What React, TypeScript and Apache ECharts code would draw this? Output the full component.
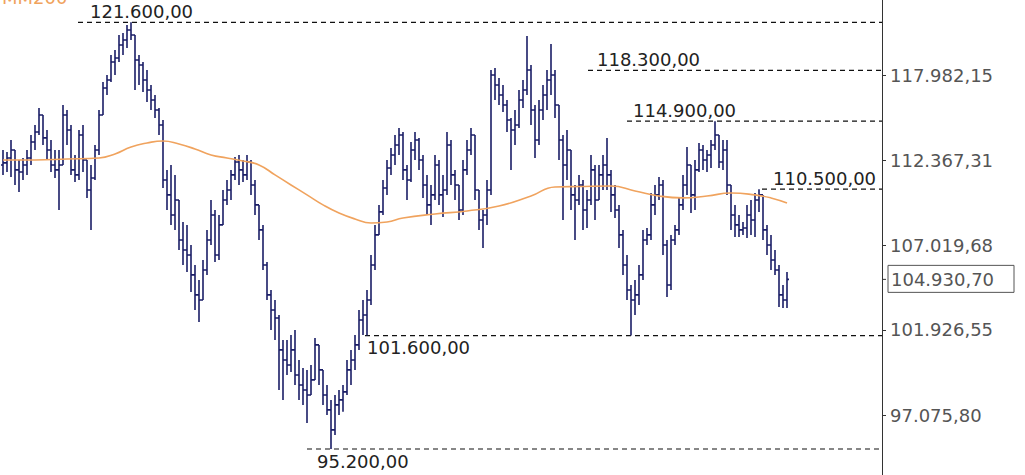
import React, { useEffect, useRef } from "react";
import * as echarts from "echarts";

const opens = [
  112050, 112180, 112500, 113010, 111730, 111600, 112050, 112500, 113530, 114190,
  115310, 113800, 113010, 112050, 111730, 112050, 115310, 114320, 111730, 111410,
  113990, 112370, 110450, 111210, 113010, 115310, 117110, 117640, 118870, 119140,
  120030, 120380, 121070, 120720, 119000, 118660, 117640, 116970, 116300, 115640,
  114650, 111090, 110140, 108880, 109820, 107330, 106710, 106410, 105200, 104000,
  103700, 105500, 107330, 108880, 106410, 108260, 109820, 110450, 111410, 112240,
  111730, 111410, 112240, 110770, 109510, 107950, 105800, 104000, 103100, 102630,
  100770, 100190, 99900, 100770, 99330, 98760, 98480, 98200, 99050, 101060,
  99620, 98200, 97360, 96250, 97640, 97920, 98370, 99620, 100190, 101060,
  102510, 102810, 103700, 105800, 107640, 109070, 110580, 111850, 112690, 113340,
  113990, 111730, 111090, 113010, 113660, 112370, 110770, 109510, 110140, 112050,
  110140, 110450, 113340, 111410, 110770, 109190, 111730, 113010, 113990, 110450,
  108570, 108880, 110450, 117980, 117310, 116640, 115970, 114980, 114320, 114650,
  116300, 116970, 118320, 115640, 113660, 115640, 116640, 117640, 117980, 115970,
  113660, 112050, 113010, 110140, 109820, 110770, 109190, 109820, 111730, 109820,
  111410, 112050, 111410, 110140, 109190, 107640, 105800, 104290, 103700, 104000,
  105200, 107330, 107640, 109510, 110140, 110770, 107020, 104590, 107330, 107950,
  109510, 110770, 112050, 110140, 111730, 113010, 112370, 112690, 113340, 113990,
  112240, 113010, 110770, 108880, 108260, 107950, 108070, 108880, 108570, 109820,
  110140, 107950, 107020, 106100, 105500, 104000, 103700,
];
const highs = [
  113010, 112890, 113660, 113010, 112370, 112500, 113010, 113990, 114650, 115770,
  115310, 114320, 113660, 113010, 113010, 115970, 115640, 114650, 112690, 114320,
  114650, 112370, 112050, 113340, 115640, 117510, 117980, 119340, 119690, 120720,
  120860, 121420, 121600, 120720, 119340, 118870, 118320, 117310, 116640, 115770,
  114980, 111730, 112050, 111410, 109820, 108440, 108260, 107020, 105800, 104890,
  106100, 107950, 109820, 109190, 108880, 110450, 111090, 111730, 112560, 112690,
  112370, 112690, 112370, 111090, 109510, 108260, 105980, 104290, 103700, 102810,
  101350, 101350, 101640, 101930, 100190, 99730, 99620, 99900, 101460, 101060,
  99620, 98760, 97920, 98200, 98480, 98760, 100190, 100770, 101640, 103100,
  103700, 104290, 106410, 108260, 109510, 111090, 112370, 113140, 113990, 114450,
  114190, 112050, 113530, 114190, 113800, 112690, 111410, 110770, 112690, 112370,
  111410, 114190, 113660, 111730, 110770, 112370, 113660, 114450, 113990, 110450,
  109190, 111090, 118320, 118460, 117780, 117310, 116300, 115110, 115640, 116970,
  117640, 120650, 118660, 115970, 116300, 117310, 118320, 120100, 118320, 115970,
  113990, 114320, 113010, 110770, 111410, 111090, 110450, 112690, 112050, 112050,
  112690, 113800, 111730, 110770, 109510, 107950, 106410, 104590, 104890, 105800,
  107950, 108070, 110260, 110770, 111280, 111090, 107330, 107640, 108260, 109950,
  111410, 113210, 112050, 112370, 113470, 113340, 113010, 113660, 114900, 113990,
  113660, 113660, 110770, 109510, 108880, 108440, 109510, 109820, 110260, 110500,
  110140, 108260, 107640, 106710, 105800, 104590, 105380,
];
const lows = [
  111410, 111600, 111280, 110770, 110330, 111090, 111410, 112050, 113010, 113990,
  113340, 112370, 111600, 111210, 109190, 112050, 113340, 111410, 110960, 111090,
  111600, 109950, 107950, 111090, 112690, 115310, 116640, 117510, 117980, 118870,
  119340, 119820, 120380, 116970, 117310, 116840, 116170, 115640, 115110, 113990,
  110580, 109190, 108260, 107950, 106710, 105800, 105380, 104170, 103100, 102400,
  103700, 105200, 107020, 105980, 106100, 108260, 109510, 109820, 111090, 110770,
  110960, 111090, 110140, 108880, 107330, 105500, 103700, 101930, 101350, 98480,
  97920, 99330, 99500, 98760, 97920, 97640, 96630, 98200, 99050, 98760,
  97640, 97080, 95200, 95970, 97080, 97250, 98200, 98760, 99620, 100770,
  101640, 101600, 103400, 105500, 107640, 108880, 110140, 111410, 112050, 112690,
  111090, 109820, 110960, 112370, 111730, 109950, 108880, 108260, 109820, 109510,
  108750, 110140, 110770, 109820, 108570, 108880, 111410, 112690, 109820, 107950,
  106840, 108260, 110140, 116300, 115970, 115500, 114190, 111730, 113340, 114450,
  115770, 116640, 114650, 112500, 113340, 114980, 115640, 116640, 115110, 112370,
  108570, 111090, 109190, 107330, 109510, 107950, 108070, 109510, 108570, 109820,
  110450, 110450, 109070, 108690, 106840, 105200, 103700, 101600, 102810, 103400,
  104890, 107020, 107330, 108880, 109820, 106410, 103880, 104290, 107020, 107640,
  109190, 110140, 109000, 109190, 111600, 111730, 111600, 111850, 113010, 111850,
  111730, 110140, 107950, 107510, 107510, 107640, 107450, 107640, 107510, 109070,
  107330, 106410, 105500, 105200, 103280, 103220, 103220,
];
const closes = [
  112180, 112500, 113010, 111730, 111600, 112050, 112500, 113530, 114190, 115310,
  113800, 113010, 112050, 111730, 112050, 115310, 114320, 111730, 111410, 113990,
  112370, 110450, 111210, 113010, 115310, 117110, 117640, 118870, 119140, 120030,
  120380, 121070, 120720, 119000, 118660, 117640, 116970, 116300, 115640, 114650,
  111090, 110140, 108880, 109820, 107330, 106710, 106410, 105200, 104000, 103700,
  105500, 107330, 108880, 106410, 108260, 109820, 110450, 111410, 112240, 111730,
  111410, 112240, 110770, 109510, 107950, 105800, 104000, 103100, 102630, 100770,
  100190, 99900, 100770, 99330, 98760, 98480, 98200, 99050, 101060, 99620,
  98200, 97360, 96250, 97640, 97920, 98370, 99620, 100190, 101060, 102510,
  102810, 103700, 105800, 107640, 109070, 110580, 111850, 112690, 113340, 113990,
  111730, 111090, 113010, 113660, 112370, 110770, 109510, 110140, 112050, 110140,
  110450, 113340, 111410, 110770, 109190, 111730, 113010, 113990, 110450, 108570,
  108880, 110450, 117980, 117310, 116640, 115970, 114980, 114320, 114650, 116300,
  116970, 118320, 115640, 113660, 115640, 116640, 117640, 117980, 115970, 113660,
  112050, 113010, 110140, 109820, 110770, 109190, 109820, 111730, 109820, 111410,
  112050, 111410, 110140, 109190, 107640, 105800, 104290, 103700, 104000, 105200,
  107330, 107640, 109510, 110140, 110770, 107020, 104590, 107330, 107950, 109510,
  110770, 112050, 110140, 111730, 113010, 112370, 112690, 113340, 113990, 112240,
  113010, 110770, 108880, 108260, 107950, 108070, 108880, 108570, 109820, 110140,
  107950, 107020, 106100, 105500, 104000, 103700, 104930.7,
];

// 200-session moving average, read at these bar indexes
const maIndex = [0, 8, 16, 24, 28, 32, 36, 40, 44, 48, 52, 56, 60, 64, 68, 72, 76, 80, 84, 88, 92, 96, 100, 108, 116, 124, 132, 138, 144, 152, 158, 164, 170, 176, 182, 188, 192, 196];
const maValues = [112370, 112370, 112430, 112500, 112760, 113210, 113470, 113600, 113400, 113080, 112690, 112500, 112300, 112050, 111410, 110770, 110140, 109510, 109000, 108630, 108380, 108440, 108690, 108940, 109130, 109440, 110070, 110640, 110670, 110700, 110390, 110070, 109950, 110070, 110260, 110140, 109950, 109630];

const tickValues = [97075.8, 101926.55, 107019.68, 112367.31, 117982.15];
const levelValues = [121600, 118300, 114900, 110500, 101600, 95200];
const levelStart = [18.75, 146.25, 156, 189.75, 90.5, 76];
const levelAbove = [true, true, true, true, false, false];
const lastPrice = 104930.7;

// layout constants
const LABEL_DX = [12, 9, 6, 11, 2, 10];
const FONT = '"DejaVu Sans", Verdana, sans-serif';
const FS = 18;
const NAVY = "#1a1d66";

const fmt = (v: number) => {
  const [ip, dp] = v.toFixed(2).split(".");
  return ip.replace(/\B(?=(\d{3})+(?!\d))/g, ".") + "," + dp;
};
const L = (v: number) => Math.log(v);

export default function App() {
  const ref = useRef<HTMLDivElement>(null);
  useEffect(() => {
    if (!ref.current) return;
    const chart = echarts.init(ref.current, undefined, { renderer: "svg" });
    const lo = tickValues[0];
    const hi = tickValues[tickValues.length - 1];
    const k = 340 / Math.log(hi / lo);
    const yMin = L(lo) - 60 / k;
    const yMax = L(hi) + 75 / k;
    const tickLn = tickValues.map(L);

    const ohlcData = opens.map((o, i) => [i, L(o), L(highs[i]), L(lows[i]), L(closes[i])]);
    const maData = maIndex.map((x, j) => [x, L(maValues[j])]);
    const levelData = levelValues.map((v, j) => [levelStart[j], L(v), j]);

    chart.setOption({
      animation: false,
      backgroundColor: "#ffffff",
      grid: { left: 0, right: 143, top: 0, bottom: 0, containLabel: false },
      xAxis: { type: "value", min: -0.75, max: 219.75, show: false },
      yAxis: {
        type: "value",
        position: "right",
        min: yMin,
        max: yMax,
        scale: true,
        splitLine: { show: false },
        axisLine: { show: true, onZero: false, lineStyle: { color: "#333", width: 1 } },
        axisTick: { show: true, inside: false, length: 4, lineStyle: { color: "#333" }, customValues: tickLn },
        axisLabel: {
          show: true,
          customValues: tickLn,
          margin: 8,
          color: "#555",
          fontSize: FS,
          fontFamily: FONT,
          formatter: (val: number) => {
            let best = 0;
            tickLn.forEach((t, j) => { if (Math.abs(t - val) < Math.abs(tickLn[best] - val)) best = j; });
            return fmt(tickValues[best]);
          },
        },
      },
      graphic: [
        { type: "text", left: 2, top: -12, style: { text: "MM200", fill: "#f0a35e", font: `${FS}px ${FONT}` } },
      ],
      series: [
        {
          type: "custom",
          name: "OHLC",
          clip: true,
          encode: { x: 0, y: [1, 2, 3, 4] },
          data: ohlcData,
          renderItem: (params: any, api: any) => {
            const i = api.value(0);
            const o = api.coord([i, api.value(1)]);
            const h = api.coord([i, api.value(2)]);
            const l = api.coord([i, api.value(3)]);
            const c = api.coord([i, api.value(4)]);
            const x = o[0];
            const st = { stroke: NAVY, lineWidth: 1.6 };
            return {
              type: "group",
              children: [
                { type: "line", shape: { x1: x, y1: h[1], x2: x, y2: l[1] }, style: st },
                { type: "line", shape: { x1: x - 2, y1: o[1], x2: x, y2: o[1] }, style: st },
                { type: "line", shape: { x1: x, y1: c[1], x2: x + 2, y2: c[1] }, style: st },
              ],
            };
          },
          z: 3,
        },
        {
          type: "line",
          name: "MM200",
          data: maData,
          smooth: true,
          symbol: "none",
          lineStyle: { color: "#f0a35e", width: 1.6 },
          z: 4,
        },
        {
          type: "custom",
          name: "levels",
          encode: { x: 0, y: 1 },
          data: levelData,
          renderItem: (params: any, api: any) => {
            const j = api.value(2);
            const p = api.coord([api.value(0), api.value(1)]);
            const right = params.coordSys.x + params.coordSys.width;
            const above = levelAbove[j];
            return {
              type: "group",
              children: [
                {
                  type: "line",
                  shape: { x1: p[0], y1: p[1], x2: right, y2: p[1] },
                  style: { stroke: "#111", lineWidth: 1.2, lineDash: [5, 4] },
                },
                {
                  type: "text",
                  style: {
                    text: fmt(levelValues[j]),
                    x: p[0] + LABEL_DX[j],
                    y: above ? p[1] - 2 : p[1] + 3,
                    fill: "#222",
                    font: `${FS}px ${FONT}`,
                    align: "left",
                    verticalAlign: above ? "bottom" : "top",
                  },
                },
              ],
            };
          },
          z: 2,
        },
        {
          type: "custom",
          name: "last",
          encode: { x: 0, y: 1 },
          data: [[0, L(lastPrice)]],
          renderItem: (params: any, api: any) => {
            const p = api.coord([0, api.value(1)]);
            const right = params.coordSys.x + params.coordSys.width;
            return {
              type: "group",
              children: [
                { type: "line", shape: { x1: right, y1: p[1], x2: right + 4, y2: p[1] }, style: { stroke: "#333", lineWidth: 1 } },
                { type: "rect", shape: { x: right + 6, y: p[1] - 14, width: 126, height: 27 }, style: { fill: "#fff", stroke: "#555", lineWidth: 1 } },
                {
                  type: "text",
                  style: { text: fmt(lastPrice), x: right + 9, y: p[1], fill: "#555", font: `${FS}px ${FONT}`, align: "left", verticalAlign: "middle" },
                },
              ],
            };
          },
          z: 5,
        },
      ],
    });
    return () => chart.dispose();
  }, []);
  return (
    <div
      ref={ref}
      style={{ position: "absolute", left: 0, top: 0, width: 1025, height: 475, background: "#fff" }}
    />
  );
}
